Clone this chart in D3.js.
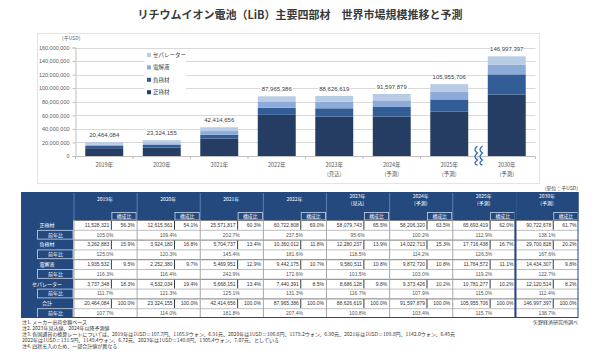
<!DOCTYPE html>
<html>
<head>
<meta charset="utf-8">
<script src="https://cdn.jsdelivr.net/npm/d3@7"></script>
<style>
  body { margin: 0; background: #fff; }
  svg text { font-family: "Noto Sans CJK JP", "Noto Sans", sans-serif; }
</style>
</head>
<body>
<svg id="chart" width="600" height="362"></svg>
<script>
// data (千USD)
var years = ['2019年', '2020年', '2021年', '2022年', '2023年', '2024年', '2025年', '2030年'];
var yearNotes = ['', '', '', '', '(見込)', '(予測)', '(予測)', '(予測)'];
var seriesNames = ['正極材', '負極材', '電解液', 'セパレーター'];

var cathode     = [11528321, 12615561, 25571817, 60722808, 58079743, 58206320, 65693419, 90722678];
var anode       = [3262883, 3924180, 5704737, 10360012, 12280237, 14022713, 17716438, 29700828];
var electrolyte = [1935532, 2252380, 5469951, 9442175, 9580511, 9872720, 11764572, 14434307];
var separator   = [3737348, 4532034, 5668151, 7440391, 8686128, 9373426, 10781277, 12120514];
var totals      = [20464084, 23324155, 42414656, 87965386, 88626619, 91597879, 105955706, 146997397];

// 構成比 (%)
var shareCathode     = [56.3, 54.1, 60.3, 69.0, 65.5, 63.5, 62.0, 61.7];
var shareAnode       = [15.9, 16.8, 13.4, 11.8, 13.9, 15.3, 16.7, 20.2];
var shareElectrolyte = [9.5, 9.7, 12.9, 10.7, 10.8, 10.8, 11.1, 9.8];
var shareSeparator   = [18.3, 19.4, 13.4, 8.5, 9.8, 10.2, 10.2, 8.2];
var shareTotal       = [100.0, 100.0, 100.0, 100.0, 100.0, 100.0, 100.0, 100.0];

// 前年比 (%)
var yoyCathode     = [105.0, 109.4, 202.7, 237.5, 95.6, 100.2, 112.9, 138.1];
var yoyAnode       = [125.0, 120.3, 145.4, 181.6, 118.5, 114.2, 126.3, 167.6];
var yoyElectrolyte = [116.3, 116.4, 242.9, 172.6, 101.5, 103.0, 119.2, 122.7];
var yoySeparator   = [111.7, 121.3, 125.1, 131.3, 116.7, 107.9, 115.0, 112.4];
var yoyTotal       = [107.7, 114.0, 181.8, 207.4, 100.8, 103.4, 115.7, 138.7];

var yTicks = [0, 20000000, 40000000, 60000000, 80000000, 100000000, 120000000, 140000000, 160000000];

var footnotes = [
  '注1. メーカー出荷金額ベース',
  '注2. 2023年見込値、2024年以降予測値',
  '注3. 各国通貨の換算レートについては、2019年は1USD＝107.7円、1165.9ウォン、6.91元、2020年は1USD＝106.8円、1179.2ウォン、6.90元、2021年は1USD＝109.8円、1142.0ウォン、6.45元',
  '2022年は1USD＝131.5円、1149.4ウォン、6.72元、2023年は1USD＝140.0円、1305.4ウォン、7.07元、としている',
  '注4. 四捨五入のため、一部合計値が異なる'
];

var colors = ['#253d63', '#335d96', '#8eaad8', '#b9cce6'];
var fmt = d3.format(',');

var svg = d3.select('#chart');

// title
svg.append('text')
  .attr('x', 300).attr('y', 19)
  .attr('text-anchor', 'middle')
  .style('font-size', '11px').style('font-weight', 700)
  .style('fill', '#3a3a3a')
  .text('リチウムイオン電池（LiB）主要四部材　世界市場規模推移と予測');

// chart frame
svg.append('rect')
  .attr('x', 37.5).attr('y', 33.5).attr('width', 502).attr('height', 150)
  .attr('fill', '#fff').attr('stroke', '#e3e3e3');

var x = d3.scaleBand().domain(years).range([75.5, 535.5]).paddingInner(0.34).paddingOuter(0.17);
var y = d3.scaleLinear().domain([0, 160000000]).range([156, 47.5]);

// gridlines
svg.append('g').selectAll('line')
  .data(yTicks.slice(1))
  .enter().append('line')
  .attr('x1', 75.5).attr('x2', 535.5)
  .attr('y1', d => Math.round(y(d)) + 0.5).attr('y2', d => Math.round(y(d)) + 0.5)
  .attr('stroke', '#d9d9d9');

// y axis
var yAxis = svg.append('g')
  .attr('transform', 'translate(75.5,0)')
  .call(d3.axisLeft(y).tickValues(yTicks).tickFormat(fmt).tickSize(3).tickPadding(3));
yAxis.select('.domain').attr('stroke', '#bfbfbf');
yAxis.selectAll('line').attr('stroke', '#bfbfbf');
yAxis.selectAll('text').style('font-size', '5.5px').style('fill', '#595959')
  .style('font-family', '"Liberation Sans", "DejaVu Sans", sans-serif');

svg.append('text')
  .attr('x', 62).attr('y', 40)
  .style('font-size', '5px').style('fill', '#595959')
  .text('(千USD)');

// stacked bars
var rows = years.map((yr, i) => ({
  year: yr,
  '正極材': cathode[i],
  '負極材': anode[i],
  '電解液': electrolyte[i],
  'セパレーター': separator[i]
}));
var stacked = d3.stack().keys(seriesNames)(rows);

svg.append('g').selectAll('g')
  .data(stacked)
  .enter().append('g')
  .attr('fill', (d, i) => colors[i])
  .selectAll('rect')
  .data(d => d)
  .enter().append('rect')
  .attr('x', d => x(d.data.year))
  .attr('width', x.bandwidth())
  .attr('y', d => y(d[1]))
  .attr('height', d => y(d[0]) - y(d[1]));

// x baseline and small ticks
svg.append('line')
  .attr('x1', 75.5).attr('x2', 535.5).attr('y1', 156.5).attr('y2', 156.5)
  .attr('stroke', '#bfbfbf');
svg.append('g').selectAll('line')
  .data(years.concat(['end']))
  .enter().append('line')
  .attr('x1', (d, i) => 75.5 + i * x.step()).attr('x2', (d, i) => 75.5 + i * x.step())
  .attr('y1', 156.5).attr('y2', 159)
  .attr('stroke', '#bfbfbf');

// total labels with white backing
var lbl = svg.append('g').selectAll('g')
  .data(years)
  .enter().append('g')
  .attr('transform', (d, i) => `translate(${x(d) + x.bandwidth() / 2}, ${y(totals[i]) - 5})`);
lbl.append('rect')
  .attr('x', -16).attr('y', -5).attr('width', 32).attr('height', 6.5)
  .attr('fill', '#fff');
lbl.append('text')
  .attr('text-anchor', 'middle')
  .style('font-size', '6px').style('fill', '#404040')
  .style('font-family', '"Liberation Sans", "DejaVu Sans", sans-serif')
  .text((d, i) => fmt(totals[i]));

// category labels
var xl = svg.append('g').selectAll('g')
  .data(years)
  .enter().append('g')
  .attr('transform', d => `translate(${x(d) + x.bandwidth() / 2}, 0)`);
xl.append('text')
  .attr('y', 167).attr('text-anchor', 'middle')
  .style('font-size', '5.5px').style('fill', '#595959')
  .text(d => d);
xl.append('text')
  .attr('y', 176).attr('text-anchor', 'middle')
  .style('font-size', '5.5px').style('fill', '#595959')
  .text((d, i) => yearNotes[i]);

// break mark between 2025 and 2030
var bx = x('2030年') - (x.step() - x.bandwidth()) / 2;
[-2.5, 2.5].forEach(function(off) {
  svg.append('path')
    .attr('d', `M${bx + off + 2},146 q-5,4 0,7 q-5,4 0,7 q-5,4 0,5`)
    .attr('fill', 'none').attr('stroke', '#2e6db4').attr('stroke-width', 1.3);
});

// legend
var legend = svg.append('g').attr('transform', 'translate(144,50)');
legend.append('rect').attr('width', 42).attr('height', 46).attr('fill', '#fff');
var legendOrder = [3, 2, 1, 0];
legendOrder.forEach(function(k, j) {
  var g = legend.append('g').attr('transform', `translate(3, ${5 + j * 12.4})`);
  g.append('rect').attr('x', 0).attr('y', -2).attr('width', 4).attr('height', 4).attr('fill', colors[k]);
  g.append('text').attr('x', 6).attr('y', 2)
    .style('font-size', '5.5px').style('fill', '#404040')
    .text(seriesNames[k]);
});

// unit
svg.append('text')
  .attr('x', 578).attr('y', 190).attr('text-anchor', 'end')
  .style('font-size', '5px').style('fill', '#404040')
  .text('(単位：千USD)');

// ---------------- table ----------------
var tLeft = 21, labelRight = 73.5, tRight = 578.5;
var headTop = 192, headBottom = 220, rowH = 9.8;
var navy = '#23497f';
var col = d3.scaleBand().domain(years).range([labelRight, tRight]);
var colW = col.bandwidth();
var valW = colW * 0.6;

var tableRows = [
  { label: '正極材', vals: cathode, share: shareCathode, yoy: yoyCathode },
  { label: '負極材', vals: anode, share: shareAnode, yoy: yoyAnode },
  { label: '電解液', vals: electrolyte, share: shareElectrolyte, yoy: yoyElectrolyte },
  { label: 'セパレーター', vals: separator, share: shareSeparator, yoy: yoySeparator },
  { label: '合計', vals: totals, share: shareTotal, yoy: yoyTotal }
];
var tBottom = headBottom + rowH * tableRows.length * 2;

var table = svg.append('g');
var numFont = '"Liberation Sans", "DejaVu Sans", sans-serif';

// header background and label column
table.append('rect')
  .attr('x', tLeft).attr('y', headTop).attr('width', tRight - tLeft).attr('height', headBottom - headTop)
  .attr('fill', navy);
table.append('rect')
  .attr('x', tLeft).attr('y', headBottom).attr('width', labelRight - tLeft).attr('height', tBottom - headBottom)
  .attr('fill', navy);

// header per year
var hg = table.selectAll('g.head')
  .data(years)
  .enter().append('g')
  .attr('class', 'head')
  .attr('transform', d => `translate(${col(d)},0)`);
hg.append('line')
  .attr('x1', 0.5).attr('x2', 0.5).attr('y1', headTop).attr('y2', headBottom)
  .attr('stroke', '#5b7db0');
hg.append('text')
  .attr('x', colW / 2).attr('y', (d, i) => yearNotes[i] ? 198 : 201)
  .attr('text-anchor', 'middle')
  .style('font-size', '5px').style('fill', '#fff')
  .text(d => d);
hg.append('text')
  .attr('x', colW / 2).attr('y', 204.5)
  .attr('text-anchor', 'middle')
  .style('font-size', '5px').style('fill', '#fff')
  .text((d, i) => yearNotes[i]);
hg.append('rect')
  .attr('x', valW + 0.5).attr('y', 212.5).attr('width', colW - valW - 1).attr('height', 7.5)
  .attr('fill', navy).attr('stroke', '#c9d6ea').attr('stroke-width', 0.8);
hg.append('text')
  .attr('x', valW + (colW - valW) / 2).attr('y', 218.3)
  .attr('text-anchor', 'middle')
  .style('font-size', '4.8px').style('fill', '#fff')
  .text('構成比');

// body rows
tableRows.forEach(function(r, ri) {
  var top1 = headBottom + ri * 2 * rowH;
  var top2 = top1 + rowH;

  // label column
  table.append('text')
    .attr('x', 47).attr('y', top1 + rowH / 2 + 1.8)
    .attr('text-anchor', 'middle')
    .style('font-size', '5px').style('fill', '#fff')
    .text(r.label);
  table.append('rect')
    .attr('x', 37.5).attr('y', top2 + 0.5).attr('width', labelRight - 38).attr('height', rowH - 1)
    .attr('fill', navy).attr('stroke', '#c9d6ea').attr('stroke-width', 0.8);
  table.append('text')
    .attr('x', 55.5).attr('y', top2 + rowH / 2 + 1.8)
    .attr('text-anchor', 'middle')
    .style('font-size', '5px').style('fill', '#fff')
    .text('前年比');

  var cg = table.append('g').selectAll('g')
    .data(years)
    .enter().append('g')
    .attr('transform', d => `translate(${col(d)},0)`);

  cg.append('rect')
    .attr('x', 0).attr('y', top1).attr('width', colW).attr('height', rowH * 2)
    .attr('fill', '#fff');
  // value / share divider
  cg.append('line')
    .attr('x1', valW).attr('x2', valW).attr('y1', top1 + 0.5).attr('y2', top2)
    .attr('stroke', '#3a3a3a').attr('stroke-width', 1);
  cg.append('text')
    .attr('x', valW - 2).attr('y', top1 + rowH / 2 + 1.8)
    .attr('text-anchor', 'end')
    .style('font-size', '5px').style('fill', '#333').style('font-family', numFont)
    .text((d, i) => fmt(r.vals[i]));
  cg.append('text')
    .attr('x', colW - 2).attr('y', top1 + rowH / 2 + 1.8)
    .attr('text-anchor', 'end')
    .style('font-size', '5px').style('fill', '#333').style('font-family', numFont)
    .text((d, i) => r.share[i].toFixed(1) + '%');
  cg.append('text')
    .attr('x', colW / 2).attr('y', top2 + rowH / 2 + 1.8)
    .attr('text-anchor', 'middle')
    .style('font-size', '5px').style('fill', '#555').style('font-family', numFont)
    .text((d, i) => r.yoy[i].toFixed(1) + '%');

  // horizontal rules
  table.append('line')
    .attr('x1', labelRight).attr('x2', tRight).attr('y1', top2 + 0.5).attr('y2', top2 + 0.5)
    .attr('stroke', '#bfbfbf');
  table.append('line')
    .attr('x1', labelRight).attr('x2', tRight).attr('y1', top1 + 0.5).attr('y2', top1 + 0.5)
    .attr('stroke', '#7f7f7f');
});

// column dividers in body
table.append('g').selectAll('line')
  .data(years)
  .enter().append('line')
  .attr('x1', d => col(d) + 0.5).attr('x2', d => col(d) + 0.5)
  .attr('y1', headBottom).attr('y2', tBottom)
  .attr('stroke', '#a6a6a6');

// double line before 2030
var x2030 = col('2030年');
table.append('rect')
  .attr('x', x2030 - 1).attr('y', headTop).attr('width', 2).attr('height', tBottom - headTop)
  .attr('fill', navy);

// outer border
table.append('rect')
  .attr('x', tLeft + 0.5).attr('y', headTop + 0.5).attr('width', tRight - tLeft - 1).attr('height', tBottom - headTop - 1)
  .attr('fill', 'none').attr('stroke', navy).attr('stroke-width', 1);

// source
svg.append('text')
  .attr('x', 578).attr('y', 323.5).attr('text-anchor', 'end')
  .style('font-size', '5px').style('fill', '#404040')
  .text('矢野経済研究所調べ');

// footnotes
svg.append('g').selectAll('text')
  .data(footnotes)
  .enter().append('text')
  .attr('x', 22)
  .attr('y', (d, i) => [323.5, 330, 336, 341.5, 347.5][i])
  .style('font-size', '5px').style('fill', '#333')
  .text(d => d);
</script>
</body>
</html>
